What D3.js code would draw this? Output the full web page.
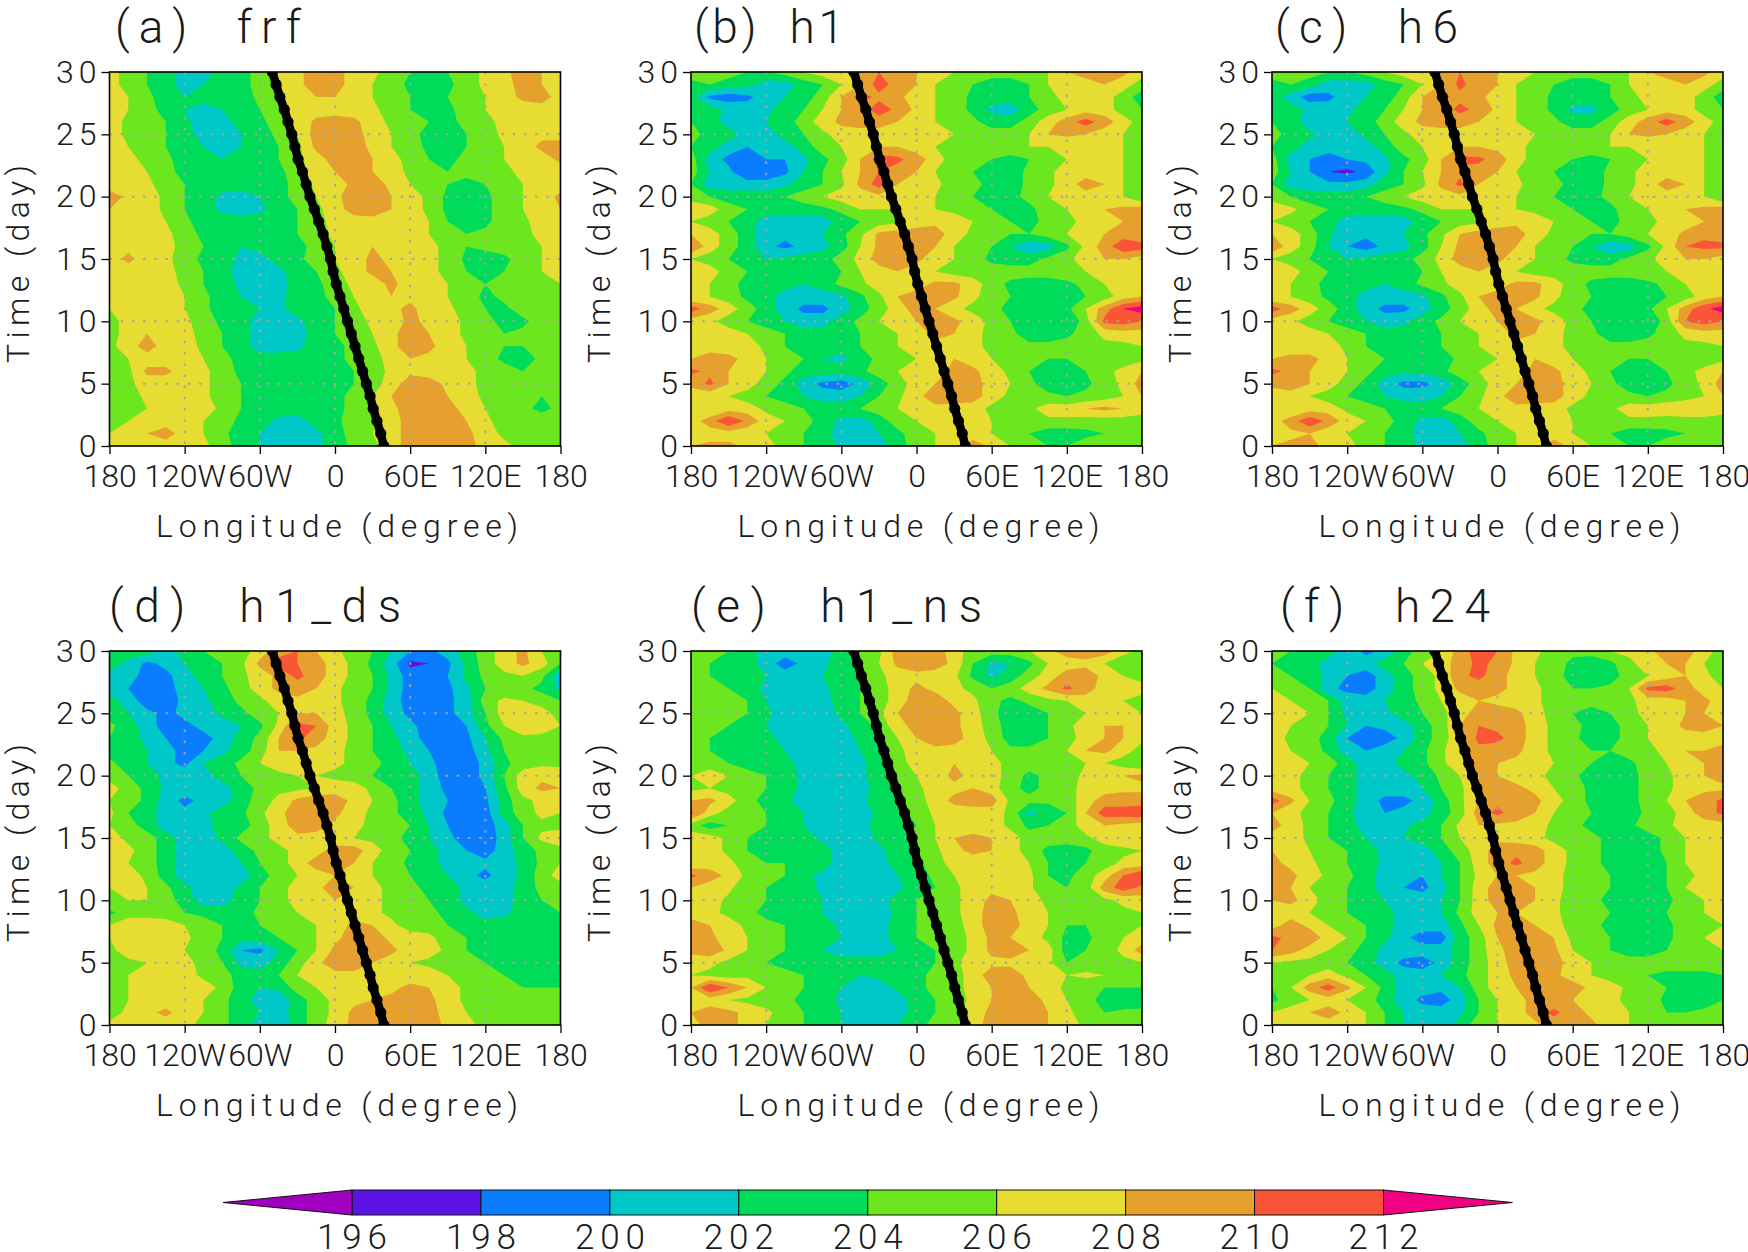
<!DOCTYPE html>
<html>
<head>
<meta charset="utf-8">
<script src="https://d3js.org/d3.v7.min.js"></script>
<style>
  body { margin: 0; background: #fff; }
  text { font-family: Roboto, "Liberation Sans", sans-serif; font-weight: 300; fill: #1a1a1a; white-space: pre; }
  .axis path { display: none; }
  .axis line { stroke: #000; stroke-width: 1.3px; }
  .axis text { font-family: Roboto, sans-serif; font-size: 32px; font-weight: 300; fill: #1a1a1a; }
  .axis.yaxis text { letter-spacing: 5px; }
  .grid line { stroke: #a4a4a4; stroke-width: 2px; stroke-dasharray: 2.5 8.7; }
  .frame { fill: none; stroke: #000; stroke-width: 1.6px; }
</style>
</head>
<body>
<script>
// grid axes: rows run from day 30 (top) to day 0, columns from 180W to 180E every 15 degrees
var lons = d3.range(-180, 181, 15);
var lonTicks = [-180, -120, -60, 0, 60, 120, 180];
var lonTickLabels = ["180", "120W", "60W", "0", "60E", "120E", "180"];
var dayTicks = [0, 5, 10, 15, 20, 25, 30];
var levels = [196, 198, 200, 202, 204, 206, 208, 210, 212];
var levelColors = ["#5c14e6", "#0a7dff", "#00c8c8", "#00dc5a", "#6ce61e", "#e6dc32", "#e6a02d", "#fa5537", "#f00082"];
var belowColor = "#a000c0";
var panelTitles = ["(a)  frf", "(b)  h1", "(c)  h6", "(d)  h1_ds", "(e)  h1_ns", "(f)  h24"];

// black line, longitude at day 0, 1, ... 30
var trackLon = [39,36.5,33.5,30.5,28,25,22,19,16,13,10,7,4,1,-1.5,-3.5,-6.5,-9.5,-13,-16.5,-20,-23,-26,-29.5,-32,-34.5,-37.5,-40.5,-44,-47,-50];

var gridFrf = [
[207,205,204,203,201, 201,203,203,205,207, 207.5,209,209,207,206.5, 205,204,203,204,205, 206.5,207.5,209,208,207],
[207,205,204,203,201, 202,203,203,205,206, 207.5,209,209,207,206, 205,203.5,203,203.5,205, 206.5,207.5,208.5,208,207],
[207,206,204.5,203,202, 203,203,203,204.5,206, 207,208,208,207,206, 205,204,203,204,205, 206,207,208.5,209,207],
[207,206,205,203,202, 201,202,203,204,205, 207,207,207,207,206.5, 205,204,203,203.5,205, 206,207,207,207,207],
[207,205.5,205,204,202.5, 201,201,203,203.5,205, 206.5,208.5,209,208.5,207, 205.5,204.5,204,203.5,204.5, 205.5,206.5,207,208,207],
[207,205.5,204.5,204,203, 201,201,202,203,204.5, 206,209,209,209,207, 206,205,203,203,204, 205,206.5,207,207.5,207],
[207,206,205,204,203, 202,201.5,202,203,204, 205.5,208.5,209,209,207.5, 206,205,203.5,203.5,204, 205,206,207,208.5,209],
[207,206.5,205.5,204.5,203, 203,202,203,203,204, 205.5,207,209,209,208, 206.5,205.5,204,203.5,204.5, 205,206,206.5,207,208.5],
[207,207,206,205,203, 203,203,203,203,203.5, 205,207,208,209,208, 207,205.5,204.5,204,204.5, 205,205.5,206.5,207,207],
[207,207,206.5,205,204, 203,203,203,203,203.5, 204.5,206.5,207,208.5,209, 207.5,206,205,204,203.5, 204,205,206,207,207],
[209,207.5,207,205.5,204, 203,201.5,201,202,203.5, 204.5,206,207.5,209,209.5, 208,207,205.5,203.5,203, 203.5,205,206,207,208.5],
[208,207.5,207,205.5,204, 203,201.5,201,201.5,203, 204,205.5,207,209,209.5, 208,207,205.5,203.5,203, 203.5,205,206,207,208],
[207,207,207,206,204.5, 203,203,203,203,203,204,205,207,207,207, 207,207,206,204,203, 203.5,205,205.5,207,207],
[207,207,207,206.5,205, 203.5,203,203,203,203, 204,205,206.5,207,207, 207,207,206,204.5,204, 204.5,205,205.5,206.5,207],
[207,207.5,207,206.5,205.5, 204,203,202,203,203, 203.5,204.5,206,207,208, 207,207,206.5,205.5,204, 204.5,205,205.5,206,207],
[207,208.5,207,206.5,205, 203.5,203,201.5,201,203, 203.5,205,206,207,208.5, 207.5,207,206.5,205.5,203.5, 203,203.5,205,206,207],
[207,207,207,206.5,205.5, 204,203,201,201,201.5, 203,204,205.5,207,208.5, 208,207,206.5,205.5,204, 203.5,204,205,206,206.5],
[207,207,207,207,205.5, 204,203,201.5,201,201, 203,203.5,205,206.5,207, 208.5,207,207,206,204.5, 204,204.5,205,205.5,206],
[207,207,207,207,206, 204.5,203,202,201,201.5, 203,203.5,204.5,206,207, 208,207.5,207,206,205, 203.5,204.5,205,205.5,205.5],
[206,207,207,207,206, 204.5,203,202.5,202,201.5, 203,203,204,205.5,207, 207.5,208.5,207,206.5,205, 204,203.5,205,205,205],
[205,207,207,207,206.5, 205,203.5,203,201,201, 201.5,203,204,205,206.5, 207,208.5,207.5,207,205.5, 204.5,203.5,203.5,205,205],
[205,207,208,207,206.5, 205.5,204,203,201,201, 201,203,204,205,206, 207.5,209,208,207,205.5, 205,204,204.5,205,205],
[205.5,207,209,207,207, 205.5,204,203,201,201, 201.5,203,203.5,204.5,205.5, 207.5,209,208.5,207,206, 205,204,204,205,205],
[204.5,206,207,207,207, 206,204.5,203.5,203,203, 203,203,203.5,204.5,205, 207,208,207.5,207,206, 205,203.5,203,204.5,205],
[205,205.5,208.5,208.5,207, 206.5,205,203.5,203,202,203,203,203.5,204,205, 206.5,207.5,207,207,206.5, 205.5,205,204,204.5,205],
[205,205.5,207,207,207, 206.5,205,204,203,203, 203,203,203.5,204,205, 207,209,209,207.5,206.5, 205.5,205,204.5,205,205],
[205,205,206.5,207,207, 206.5,205,204,203,203, 203,203,203.5,204.5,206, 208,209,209,208,207, 205.5,205,205,204,204.5],
[205,205,206,207,207, 207,205.5,204,203,203, 203,203,203.5,204.5,205.5, 207.5,209,209,208.5,207.5, 206,205,204.5,203.5,204.5],
[205.5,206,207,207,207, 206,205,203.5,203,201.5, 201,203,203.5,205,205.5, 207,209,209,209,208, 206.5,205,205,205,205],
[206,207,208,209,207, 206,204.5,203,202,201, 201,201.5,203,205,206, 207.5,208.5,209,209,208.5, 207,205.5,205,205,205],
[207,207,207,207,207, 206.5,205,203,202,201, 201,201.5,203,204.5,205.5, 207,209,209,209,208.5, 207.5,206.5,205.5,205,206]
];

var gridH1 = [
[206,205,205,204,204, 205,206,207,207,209, 210,209,208,207,206, 205,205,205,205,206, 208,209,209,208.5,207],
[203,204,203,203,201, 201,203,204,206,208, 211,209,208,206,205, 204,203,203,204,206, 207,207,208,207,205],
[203,199.5,199,199.5,201, 202,203,205,208,211, 209.5,208.5,207,206,205, 203.5,203,203,204,205, 207,208,207,205,203],
[203,203,201.5,201,201.5, 203,204,206,208,209, 211,209.5,207.5,206,205, 203.5,201.5,201,203,205, 206,207,207,205,204],
[204,203,201,201,202, 203,205,207,208.5,209, 209,208,207,206,205, 204.5,203,203,205,207, 209,211,209,207,205],
[205,203,203,201,201, 203,204,205.5,207,207, 207,207,207,207,206, 205,205,205,206,208, 208.5,208,207,206,205],
[204,203,201,200,200, 201,203,205,206,207, 208,208,207,206,205, 205,205,205,206,206, 206,206.5,207,206,205],
[205,201,199.5,199,200, 200,201.5,203.5,205,208, 211,210.5,209,207,205, 204.5,204,203.5,204,205, 206,207,207,206,205],
[205,202,200.5,198,198, 199.5,202,204,206,208, 210,209,208,206,205, 204,203,203,204.5,205.5, 207,207,206,206,204],
[204,201,201,201,201, 201.5,203,204,205.5,208.5, 211,208,207,206.5,205, 204.5,203.5,203,204.5,205.5, 207,209,208,206,205],
[205,204,203,203,203, 204,205,206,207,207, 207.5,207,207,206,205, 204,203,203.5,204.5,206, 207,207,207,206,204],
[207.5,207,205,204,203, 203,203,203.5,204.5,206, 206,206,206.5,206,205.5, 205,204,203.5,203.5,205, 206,207,208,208.5,209],
[206,205,204,203,201, 201,201,201,203,204, 205,205.5,207,207.5,207, 206,205,204,203.5,204.5, 205.5,206.5,207,208,208],
[208,207,205,203,200.5, 200.5,200.5,202,203.5,205.5, 208.5,209,209,209,207, 205.5,204.5,204,204,205, 206,207,208,209,208],
[210,207,205,203,200.5, 199.5,200.5,201.5,203,206, 208.5,209,209,208,206, 205,204,202,200.5,201, 203.5,206.5,209,211.5,211],
[206,205,204,203,202, 202.5,203,203,205,206.5, 209,209,208.5,207,206, 205,203.5,203,203,204.5, 205.5,207,208,208,207],
[207,207,205,204,203, 203,203,203.5,204,206, 207,208,207,206,205, 205,205,205,205,205, 205.5,206,206.5,207,208],
[207,206,205,203,203, 203,202,203,204.5,205.5, 207,207.5,207,208.5,208.5, 207,205,203.5,203,203, 203.5,204.5,206,206,206.5],
[206,206,205,203.5,203, 201,201,201,201.5,203.5, 205.5,208,209,209.5,208.5, 206.5,205,204,203,203, 203,204,205,207,208],
[211,209,207,205,203, 201,199.5,199.5,201,203, 205,207,209,208,206.5, 205.5,204.5,203.5,203,203, 203.5,206,209,212,213],
[207,206.5,205,204,203.5, 202,201,201,203,204.5, 206,207,208,209,208.5, 207,205.5,204,203,203, 202,205,210.5,211,210],
[207,207,207,206,204.5, 204,203,203,203,204, 205,206,207,208.5,208, 206.5,205.5,204.5,203,203, 203.5,205,206.5,207,207],
[207,207,207,207,205.5, 204,203,203,203,204, 205.5,206,207,207.5,207.5, 206.5,205.5,205,204.5,204.5, 205,205.5,205.5,205.5,206],
[208,209,208.5,207.5,206, 205,204,202,201.5,203, 204.5,205.5,206,207,208, 207,206,205,204,204, 204,205,205,205,205.5],
[210.5,209.5,208,207,206, 204.5,203,203,203,203.5, 205,206,207,206.5,209, 208.5,207,205.5,204,203, 203,204,205.5,206.5,208],
[208.5,210.5,208,207,205, 203.5,201,199.5,199,200.5, 203,205,207,208,209.5, 208.5,207.5,206,204.5,203, 203,203.5,205,206.5,209],
[207,206.5,206,205,204, 203,202,201,201,202, 204,205.5,207.5,209,209.5, 209,207,205.5,205,204.5, 204,204.5,205,206,208],
[207,206,207,207,205.5, 205,204,203.5,203,204, 205,206,207,207.5,207, 207,205.5,205,205.5,207, 207,208,208.5,208,207],
[207,209,212,209.5,207, 206,205,203,201.5,201, 203,205,206,207,207, 207.5,206,205,205,205.5, 205.5,205,205,205,205],
[207,207,207,206.5,206, 205.5,204,203,201,201, 202,203.5,205,206,206.5, 207,206,205,204,203, 203,203.5,204,204.5,205],
[208,208.5,208.5,207.5,206.5, 205.5,204,203,201.5,201, 201,203,205,206,207, 209,207.5,206,205,204, 204,205,204.5,204.5,205]
];

var gridH6 = [
[205.5,205,205,204,204, 205,206,207,207,209, 210,209,208,207,206, 205,205,205,205,206, 208,209,209,208.5,207],
[203,204,203,201,201, 201,203,204,206,208, 210.5,209,208,206,205, 204,203,203,204,206, 207,207,208,207,205],
[203,201,199,199.5,201, 202,203,205,208,210.5, 209.5,208.5,207,206,205, 203.5,203,203,204,205, 207,208,207,205,203],
[203,203,201.5,201,201.5, 203,204,206,208,209, 210.5,209.5,207.5,206,205, 203.5,201.5,201.5,203,205, 206,207,207,205,204],
[204,203,201,201,202, 203,205,207,208.5,209, 209,208,207,206,205, 204.5,203,203,205,207, 209,211,209,207,205],
[205,203,202.5,201,201, 202.5,204,205.5,207,207, 207,207,207,207,206, 205,205,205,206,208, 208.5,208,207,206,205],
[204,203,201,200.5,200.5, 201,203,205,206,207, 208,208,207.5,206.5,205.5, 205,205,205,206,206, 206,206.5,207,206,205],
[205,201,200,199.5,200, 200.5,201.5,203.5,205,208, 210.5,210.5,209,207,205, 204.5,204,203.5,204,205, 206,207,207,206,205],
[205,202,200,198,197.5, 198.5,201.5,204,206,208, 209.5,209,208,206,205, 204,203,203,204.5,205.5, 207,207,206,206,204],
[204,201,201,200.5,200.5, 201,203,204,205.5,208.5, 210.5,208,207,206.5,205, 204.5,203.5,203,204.5,205.5, 207,209,208,206,205],
[205,204,203,203,203, 204,205,206,207,207, 207.5,207,207,206,205, 204,203,203.5,204.5,206, 207,207,207,206,204],
[207.5,206.5,205,204,203, 203,203,203.5,204.5,206, 206,206,206.5,206,205.5, 205,204,203.5,203.5,205, 206,207,208,208.5,209],
[206,205,204,203,201, 201,201,201,203,204, 205,205.5,207,207.5,207, 206,205,204,203.5,204.5, 205.5,206.5,207,208,208],
[208,207,205,202.5,200.5, 200.5,200.5,202,203.5,205.5, 208,209,209,209,207, 205.5,204.5,204,204,205, 206,207,208.5,209.5,209],
[209.5,207,205,202,200, 199,200.5,201.5,203,206, 208.5,209,209,208,206, 205,204,202,200.5,201, 203.5,206.5,210,210.5,210.5],
[206,205,204,203,202, 202.5,203,203,205,206.5, 209,209,208.5,207,206, 205,203.5,203,203,204.5, 205.5,207,208,208,207],
[207,207,205,204,203, 203,203,203.5,204,206, 207,208,207,206,205, 205,205,205,205,205, 205.5,206,206.5,207,208],
[207,206,205,203,203, 203,202,203,204.5,205.5, 207,207.5,207,208.5,208.5, 207,205,203.5,203,203, 203.5,204.5,206,206,206.5],
[206,206,205,203.5,203, 201,201,201,201.5,203.5, 205.5,208,209,209.5,208.5, 206.5,205,204,203,203, 203,204,205,207,208],
[211,209,207,205,203, 201,199.5,199.5,201,203, 205,207,209,208,206.5, 205.5,204.5,203.5,203,203, 203.5,206,209,211.5,213],
[207,206.5,205,204,203.5, 202,201,201.5,203,204.5, 206,207,208,209,208.5, 207,205.5,204,203,203, 202,205,210,211,210],
[207,207,207,206,204.5, 204,203,203,203,204, 205,206,207,208.5,208, 206.5,205.5,204.5,203,203, 203.5,205,206.5,207,207],
[207,207,207,207,205.5, 204,203,203,203,204, 205.5,206,207,207.5,207.5, 206.5,205.5,205,204.5,204.5, 205,205.5,205.5,205.5,206],
[208,208.5,208.5,207.5,206, 205,204,202,202,203, 204.5,205.5,206,207,208, 207,206,205,204,204, 204,205,205,205,205.5],
[210.5,209.5,208,207,206, 204.5,203,202.5,202.5,203.5, 205,206,207,206.5,209, 208.5,207,205.5,204,203, 203,204,205.5,206.5,208],
[208.5,210,208,207,205, 203.5,201,199.5,199.5,200.5, 203,205,207,208,209.5, 208.5,207.5,206,204.5,203, 203,203.5,205,206.5,209],
[207,206.5,206,205,204, 203,202,201,201,202, 204,205.5,207.5,209,209.5, 209,207,205.5,205,204.5, 204,204.5,205,206,208],
[207,206,207,207,205.5, 205,204,203.5,203,204, 205,206,207,207.5,207, 207,205.5,205,205.5,207, 207,207.5,208,208,207],
[207,209,211.5,209.5,207, 206,205,203,201.5,201, 203,205,206,207,207, 207.5,206,205,205,205.5, 205.5,205,205,205,205],
[207,207.5,208,206.5,206, 205.5,204,203,201,201, 202,203.5,205,206,206.5, 207,206,205,204,203, 203,203.5,204,204.5,205],
[208,208.5,208.5,207.5,206.5, 205.5,204,203,201.5,201, 201,203,205,206,207, 209,207.5,206,205,204, 204,205,204.5,204.5,205]
];

var gridH1Ds = [
[203,203,203,201,203, 204,204.5,205,207,209, 210,208,206.5,205,204, 202,200,199.5,201,203, 205,207,208.5,206,204],
[203,201.5,199.5,200.5,202, 203,204,205.5,208.5,211, 210,209,207,205.5,203.5, 201,197.5,198,199.5,202.5, 205,207,208.5,207,204],
[201.5,201,199,199.5,201, 203,204,205.5,207,208.5, 210.5,209,207,205.5,204, 201.5,199,199,200,202.5, 204.5,205.5,206,204.5,200.5],
[201,200,198.5,199.5,200.5, 202,203.5,205,207,208.5, 209,208,206.5,205,204, 201.5,199,199,199.5,201.5, 204,204.5,204.5,203.5,201.5],
[203,201,199,199,200.5, 201.5,203,204.5,205.5,207, 207.5,207,206.5,205,203.5, 201,199,199,199.5,201, 205,206.5,206,205,204],
[203,202,200.5,199.5,200.5, 201,202.5,203.5,205,206, 208,208,207,205,203.5, 201,199.5,199,199.5,201, 204,207,207.5,207,205],
[204.5,203,201,199,199.5, 200.5,201,202,203.5,206.5, 210.5,210,207,205.5,204, 202,200.5,199,199,200, 203.5,206,207.5,207,206],
[204,203,201.5,200,199, 199.5,200.5,203,204.5,208, 210.5,209,207,205.5,204, 202.5,201,199,199,199.5, 202,204.5,205.5,205.5,205],
[203,203,202,200.5,199.5, 200,201.5,203,205,208, 208,207.5,206.5,205.5,204, 203,201.5,200,199,199, 201.5,204,204.5,204.5,204.5],
[204.5,203,202,200.5,199.5, 202,203,204.5,206,207, 207.5,207,206.5,205.5,204.5, 203.5,202,200.5,199,199, 200.5,203.5,205,205.5,205.5],
[205,204,203,201.5,201, 201,203,204,205,205.5, 206,206,205.5,205,204, 203.5,203,201,199,199, 200.5,204,207,207.5,207],
[207,205,203.5,201.5,201, 201,201,203,204.5,205.5, 205.5,206,207,207,205.5, 204,203,201,199.5,199, 200,203.5,207,208.5,208],
[206,205,203.5,201,199.5, 200.5,201,203,205,206.5, 208.5,209.5,209,207.5,206, 204.5,203,201,200,199, 199.5,203,205.5,206.5,206],
[206.5,204,203,201,200.5, 201.5,203,203.5,205.5,207.5, 209,209,208.5,207,205.5, 204.5,203,201.5,199.5,199, 199,203,205,206.5,206],
[206,205,203,201,201, 201,203,203,205,207, 209,209,207.5,206.5,205.5, 205,204,202,200,198.5, 199,201,204,205.5,205.5],
[207,205.5,205,203,201, 201,202.5,204.5,205.5,206.5, 207.5,207,206.5,206,205.5, 204.5,203.5,202,200.5,199, 198.5,201,204,206.5,207],
[207,206.5,205,203,201, 201,201,203,204.5,205.5, 206.5,207,209,209,207, 205,204,203,201,200, 199,201,203,204.5,205.5],
[207,206,205,203,201, 201,201,202,204,205, 207,209,209.5,208,206, 205,203.5,203,201,201, 200.5,201,202.5,204.5,206],
[208,207,205.5,203,201, 200.5,200.5,201,203,205, 206,207,208,207.5,206, 205.5,204,203,202,200.5, 199.5,201,202.5,205,207],
[206,206.5,206,204.5,202.5, 201,201,202.5,204,205.5, 206.5,207.5,209,208,206.5, 205.5,204.5,203.5,203,201.5, 201,201,203,204.5,205],
[205.5,206,206,205,203, 201,201,203,204,205.5, 206.5,207,208,207.5,206.5, 205.5,204.5,204,203,201.5, 201,201,203,204,204],
[203.5,205,205,205,204, 203.5,203,203,204.5,205.5, 206,206.5,207,207,206.5, 205.5,205,204.5,203.5,202.5, 201,201.5,203,203.5,204],
[206,207.5,207.5,207,206, 205,204,203.5,204,204.5, 205,206,207,208.5,208, 206.5,205,205,204,203.5, 203,203,203.5,203.5,204],
[206,207.5,208,207.5,206.5, 205,204,203,203,204, 205,206,207.5,209,209, 207.5,207,206.5,205,204, 203,203,203,203,203.5],
[205.5,207,207.5,206.5,206, 205,203.5,200,199.5,202, 204,206,208.5,209.5,209, 208.5,207,207,205.5,204, 203.5,203,203,203,203],
[204.5,205.5,206,206.5,206.5, 205.5,204,201.5,201,203, 205,207.5,209,209,208, 207,206,205.5,205,204.5, 204,203,203,203,203.5],
[205,206,207,207.5,207, 205.5,205,203,203,204, 206,207,207.5,207.5,207, 207,207,207,206,205, 204.5,204,203.5,203.5,203.5],
[204,206,207,207.5,207.5, 207,205.5,203,202,202.5, 205,206,206.5,207,207.5, 207.5,208.5,208,207,205.5, 205,204,204,204,204],
[205,206,206.5,207,207, 206,204.5,203,201,200.5, 203,205,206.5,207.5,208, 208.5,208.5,208.5,207,205.5, 205,204.5,204.5,204,204],
[205,206.5,207.5,208.5,207, 206,204.5,203,202,201, 203,205,206.5,208.5,209, 209,209,209,207,206, 205.5,205,204.5,204.5,204],
[206.5,207,207,207,206.5, 205.5,204.5,203,201,200.5, 203,205,207,208.5,209, 209,209,209,207.5,206.5, 205.5,205,205,205,204.5]
];

var gridH1Ns = [
[206,205,204,203,201, 201,201,201,203,205, 205.5,209,209,209,207, 205,205,205,206,207.5, 209,209,209,207,205],
[204,204,203.5,203,201, 199,200.5,201.5,203,204.5, 206,208.5,209,209,207.5, 204,201.5,202,203.5,206, 207,207.5,206,204,204],
[205,204,203,203,202, 201,201,202,203,204, 205.5,207,207.5,207,206.5, 203.5,201.5,203,205,207, 209,209,207.5,206,205],
[204,204.5,204,203,201.5, 201,201,201.5,203,204, 205,207,208.5,207.5,206.5, 205.5,204,205,207,208.5, 210.5,209,207,206,207],
[206,205,205,204,202, 201,201,201,203,204, 205,207,209,209,207.5, 206.5,204.5,203.5,204.5,205.5, 206,207,207,206,205],
[205,205,204.5,204,202.5, 201,201,201,202.5,204, 205.5,208,209,209,208.5, 207,204.5,203,203,204, 205,206,206.5,207,206],
[204,204.5,204,203,202, 201,201,201,201.5,203, 204.5,207.5,208.5,209,208.5, 207,205,203,203,204, 205.5,207,208,208,206],
[205,204,203,203,202.5, 201.5,201,201,201,202.5, 204,206,208,209,209, 207,205.5,203,203,204, 205,207,208,208,206.5],
[204,204,203,203,203, 202,200.5,201,201,202, 203.5,205.5,207,207.5,207, 206.5,206,204.5,204.5,205, 206,208,208.5,207,205],
[204.5,205,204,203.5,203, 202.5,201.5,201,201,201.5, 203,205,207,207,208, 207,206.5,205.5,205,205, 205.5,206,206,205,204],
[206,207,206,204.5,204, 203,201.5,201,201,201.5, 203,204,206,207,208.5, 207.5,207,205,203.5,204.5, 205,206.5,207.5,208,208.5],
[205.5,206,205,204,204, 203,201.5,201,201,201.5, 202.5,204,205.5,207,207.5, 208,207,204.5,203.5,204.5, 205.5,206.5,207,207.5,207.5],
[208,208.5,207,204.5,203.5, 202.5,201,201,201,201.5, 203,204,205,207,208.5, 209,209,205.5,204.5,204.5, 205,207,209,209,209],
[210.5,207,205,204.5,204, 203,202,201,201,201, 202.5,203.5,204.5,206.5,207, 207,207,205.5,201.5,202.5, 204,208,211,211,211.5],
[205,203,204,204,204, 203,202,201,201,201, 203,203.5,204,206,207, 207,207,205.5,203.5,204, 205,207,208,207.5,207],
[207,207,205.5,204,203.5, 203,203,201.5,201,201, 202.5,203.5,204.5,206,208, 208.5,208,207,205,205, 205,205.5,207,207.5,208],
[207,207,205.5,204,203.5, 203.5,203,203,201,201, 201.5,203,204,205.5,207.5, 208.5,208,207,205,203.5, 203,203.5,205,205.5,206],
[206,207,206.5,205,204, 204,203,203,201,201, 201,203,203.5,205,207, 207,207.5,207,206,204, 203.5,204,205,206.5,206.5],
[210.5,209,207.5,205.5,204.5, 204,202.5,201.5,201,201, 201,202,203,204.5,206, 207,207,207,206.5,204, 203.5,205,207,210,212],
[208,207,206.5,204.5,204, 203.5,203,201.5,201,201, 201,201.5,203,204,205.5, 207,207.5,207,206.5,204, 204,205,209,211,209.5],
[207,207,205.5,205,204, 203,203,202,201,201, 201,203,204,204.5,205.5, 207,208.5,208,207,205.5, 204,204,205.5,206.5,207],
[207,206.5,205.5,204.5,203.5, 203,203,202,201,201, 201,202.5,204,204.5,205.5, 207,209,208.5,207,206, 204.5,204.5,205,205.5,206],
[209,208,207,205.5,204.5, 204,203,203,201.5,201, 201,203,204,204.5,205, 207,209,209,207,206, 204,204,205,205,206],
[210,208.5,207,206,205, 204,203.5,203,202,201, 201,203,204,204.5,205, 206.5,208.5,208,207,205.5, 203.5,203.5,205,206,207],
[208.5,209.5,207.5,206,205, 204,203,202,201,201, 201,202,203,204,205, 206.5,208.5,209,208,207, 203,204,205,206.5,209],
[207,206.5,205.5,204.5,204, 203.5,203,203,203,203, 203,203,203.5,204,205.5, 207,207.5,207.5,207,206.5, 204,204.5,205,205.5,206],
[206,205.5,205,205.5,205, 204.5,204,203,202,202, 202.5,203,203.5,204.5,205, 207,209,209,207.5,207, 206,206.5,206,205.5,205],
[208,212,210,208,206, 205,204,203,202,201, 201,202.5,203.5,204.5,205, 207,208,209,208,207, 205.5,204.5,204,204,204],
[206,207,206,205.5,205, 204.5,203.5,203,201.5,201, 201,201,203,204,205, 206.5,208,209,209,207.5, 206,204.5,203.5,202.5,203],
[208,209,208.5,207.5,206.5, 205,204,203,202,201, 201,201,203,204,205, 207,208.5,209,209,208, 206.5,205,204,204.5,204.5],
[207,209,208.5,207.5,206, 205,204,203,202,201, 201,202,203.5,204.5,205.5, 207,209,209,209,208, 207,205.5,205,205,204.5]
];

var gridH24 = [
[205,204,204,203,201, 199.5,200.5,203,205,206, 209,211,210,207.5,206.5, 205,204.5,205,206,206.5, 207.5,209,209,207,205],
[204,203,203,201,200.5, 201,203,204,206,207, 209,210.5,209.5,207.5,206, 205,203.5,202.5,203.5,205.5, 207,208,208,206,204],
[205,204,203,201.5,200, 199,201,203,205,206.5, 209.5,210.5,209,207,206, 205,203,202,203,205, 206,207,208,206.5,205],
[206,205,204,200.5,199.5, 199,201,203,205,206.5, 208.5,209,208.5,207.5,206.5, 205,204,204,204.5,206, 210.5,211,209,207,206],
[207,206,205,204,201, 201,202,203,204.5,206, 207,208,207.5,207,206.5, 205,205,204.5,205,205.5, 207,207,208,208.5,207],
[208,207,206,204,201.5, 201,201.5,203,204,205.5, 207,209,209,208.5,207, 205,204,203.5,204,205.5, 206.5,207,208,208,207],
[206,206,205.5,204,202, 200,200.5,201,203,205, 208,210,209.5,209,207, 205.5,204.5,203.5,203.5,204.5, 206,207,208.5,208.5,208],
[207,205.5,205,203,200, 198.5,199,200.5,203,205, 207.5,210.5,210.5,209,207, 205.5,204.5,203,203.5,204.5, 206,206.5,207,207.5,207.5],
[207,206,205,203.5,201, 200,201,202,203.5,205.5, 208,209.5,209,208.5,207, 205.5,204.5,204,204,205, 205.5,206.5,208,208,208.5],
[208,207,206,205,203, 201,201.5,202.5,203.5,205.5, 207.5,208.5,208,207.5,207, 206,205,204,203,203.5, 205,206,207,208,208],
[207,206.5,205.5,204,203, 201,201,201.5,202.5,204.5, 206,208,208,207,206.5, 205.5,204.5,203,203,203.5, 204.5,205.5,207,208,209],
[207,206.5,205.5,204,203, 201,201,201,202,204, 205.5,208,208.5,208.5,207.5, 206,205,203.5,203,203.5, 204.5,205.5,207,207.5,207.5],
[211,208.5,206,204.5,203, 201,199.5,199.5,200.5,203, 205.5,208,209.5,209.5,208.5, 207,205,203.5,203,203.5, 204.5,206,208,209,210.5],
[208,206.5,205.5,204,202.5, 201,200,200.5,201,203, 205,209,210.5,209,208, 206,205,204,202.5,203, 204.5,205,207,209,210.5],
[209,207,205.5,204,203, 201,201,201.5,203,204, 206.5,208,207.5,207.5,207, 205.5,204.5,203.5,203,203.5, 205,205.5,207,207,207],
[207,207,205.5,204,203, 202,201.5,202,203,204, 206,207,207.5,207,206.5, 205.5,205,204.5,203.5,203, 203,204.5,206,207,207],
[208,207,206,205,204, 203,201.5,201,201,203, 205,207,209,209.5,209, 207,205.5,204.5,203.5,203, 203,204.5,206,207,207],
[208.5,207.5,206.5,205,204, 203,201.5,201,201,202, 204,207,209,210.5,209, 207,205.5,204.5,203.5,203, 203,204,206,207,207],
[209.5,208.5,207,205.5,204.5, 203,201,200.5,200,202, 204,206.5,208,208,207.5, 207,205,204,204,203, 203,204,205.5,206.5,207],
[209,208,206,205,204, 203,201,200,199.5,201, 204,207,209,209,208, 207,205,204.5,204,203, 203,204,206,206.5,208],
[208,208.5,207,205,204, 203,202,201,201,202, 204,207,209,208.5,208, 206.5,205,204.5,203.5,202.5, 202.5,203.5,205,206,207],
[207,207,206,205,204, 203,202.5,201.5,201,202, 204.5,207,208,208,207.5, 206.5,205,204.5,204,203, 203,204,205.5,206,206.5],
[207,209,207.5,206,205, 204,203,201,201,201, 203.5,206,208.5,209,208, 207,205,204.5,203.5,203, 203,203.5,205,205.5,206],
[210.5,209.5,209.5,207,206, 204,202.5,200.5,199,199, 203,205,208,209,209, 208,205.5,204.5,204,203.5, 203.5,203.5,205,206,206],
[210,209,207,206,205, 203,201.5,201,201,201, 203,205,207.5,209,209, 208.5,206,205,204,203.5, 203.5,204,205,205.5,206],
[206,205.5,205.5,205,204, 203,201,199.5,199,200.5, 203,205,207,209,209.5, 209,207,206,205,204.5, 204.5,205,205,205,205],
[204,205.5,206,207,205.5, 204,203,201,201,202, 203.5,205,207,208.5,208.5, 208.5,207,206,205,204.5, 204,203.5,203.5,203.5,204],
[204,206,209,211,208.5, 206,203.5,201,201,200.5, 202,205,207,208,209.5, 209.5,209,207.5,207,205.5, 205,204,204,203.5,203.5],
[203.5,205,206,207,206, 205,203,201,199.5,199, 201,204,206,207.5,208.5, 209,208,207,206.5,205.5, 205,203.5,203,203,204],
[206,207,208,209,207.5, 206,204,202,201,201, 201.5,204,206,207,209, 210.5,209,207.5,207,206, 205,204,204,204.5,205],
[207,207.5,207.5,207,206.5, 206,204,202,201,200.5, 203,205,206,207,207.5, 209,209,208.5,207,206, 205.5,205,205,205,204.5]
];

var grids = [gridFrf, gridH1, gridH6, gridH1Ds, gridH1Ns, gridH24];

var panelW = 451, panelH = 374;
var colX = [109.5, 691, 1272];
var rowY = [72, 651];
var titleWidth = [186, 150, 183, 292, 291, 210];
var titleX = [115, 694, 1275, 109, 691, 1280];
var titleBase = [43, 622];

var svg = d3.select("body").append("svg")
  .attr("width", 1748)
  .attr("height", 1252)
  .style("display", "block");

var contours = d3.contours().size([lons.length, 31]).thresholds(levels);

function drawPanel(k) {
  var px = colX[k % 3], py = rowY[Math.floor(k / 3)];
  var g = svg.append("g").attr("transform", "translate(" + px + "," + py + ")");

  var x = d3.scaleLinear().domain([-180, 180]).range([0, panelW]);
  var y = d3.scaleLinear().domain([0, 30]).range([panelH, 0]);

  // contour grid coordinates -> lon / day. points sit at cell centres
  var proj = d3.geoTransform({
    point: function(gx, gy) {
      this.stream.point(x(-180 + (gx - 0.5) * 15), y(30 - (gy - 0.5)));
    }
  });
  var path = d3.geoPath(proj);

  g.append("clipPath").attr("id", "clip" + k)
    .append("rect").attr("width", panelW).attr("height", panelH);

  var plot = g.append("g").attr("clip-path", "url(#clip" + k + ")");
  plot.append("rect").attr("width", panelW).attr("height", panelH).attr("fill", belowColor);

  // a row of the wrong length just shows up as a skewed field, so flatten padded to the grid width
  var values = [];
  grids[k].forEach(function(r) {
    lons.forEach(function(lon, i) { values.push(i < r.length ? r[i] : r[r.length - 1]); });
  });

  plot.selectAll("path.band")
    .data(contours(values))
    .enter().append("path")
    .attr("class", "band")
    .attr("d", path)
    .attr("fill", function(d, i) { return levelColors[i]; });

  // dotted grid
  var grid = g.append("g").attr("class", "grid");
  grid.selectAll("line.v").data(lonTicks.slice(1, -1)).enter().append("line")
    .attr("x1", x).attr("x2", x).attr("y1", 0).attr("y2", panelH);
  grid.selectAll("line.h").data(dayTicks.slice(1, -1)).enter().append("line")
    .attr("y1", y).attr("y2", y).attr("x1", 0).attr("x2", panelW);

  // black track, on top of the grid dots
  var track = g.append("g").attr("clip-path", "url(#clip" + k + ")");
  var line = d3.line()
    .x(function(d) { return x(d); })
    .y(function(d, i) { return y(i); });
  track.append("path")
    .attr("d", line(trackLon))
    .attr("fill", "none").attr("stroke", "#000").attr("stroke-width", 8.5);
  track.selectAll("circle").data(trackLon).enter().append("circle")
    .attr("cx", function(d) { return x(d); })
    .attr("cy", function(d, i) { return y(i); })
    .attr("r", 5.6).attr("fill", "#000");

  g.append("rect").attr("class", "frame").attr("width", panelW).attr("height", panelH);

  // axes
  g.append("g").attr("class", "axis")
    .attr("transform", "translate(0," + panelH + ")")
    .call(d3.axisBottom(x).tickValues(lonTicks).tickSize(8).tickPadding(10)
      .tickFormat(function(d, i) { return lonTickLabels[i]; }));
  g.append("g").attr("class", "axis yaxis")
    .call(d3.axisLeft(y).tickValues(dayTicks).tickSize(8).tickPadding(0));

  g.append("text")
    .attr("x", panelW / 2 + 2).attr("y", panelH + 91)
    .attr("text-anchor", "middle").attr("font-size", 32)
    .attr("textLength", 362).attr("lengthAdjust", "spacing")
    .text("Longitude (degree)");

  g.append("text")
    .attr("transform", "translate(-81," + (panelH / 2 + 5) + ") rotate(-90)")
    .attr("text-anchor", "middle").attr("font-size", 32)
    .attr("textLength", 198).attr("lengthAdjust", "spacing")
    .text("Time (day)");

  svg.append("text")
    .attr("x", titleX[k]).attr("y", titleBase[Math.floor(k / 3)])
    .attr("font-size", 46)
    .attr("textLength", titleWidth[k]).attr("lengthAdjust", "spacing")
    .text(panelTitles[k]);
}

d3.range(6).forEach(drawPanel);

// colour bar
var barX = d3.scaleLinear().domain([196, 212]).range([352, 1383.5]);
var barTop = 1190, barBot = 1215;
var bar = svg.append("g");

bar.selectAll("rect").data(levels.slice(0, -1)).enter().append("rect")
  .attr("x", barX)
  .attr("y", barTop)
  .attr("width", function(d) { return barX(d + 2) - barX(d); })
  .attr("height", barBot - barTop)
  .attr("fill", function(d, i) { return levelColors[i]; })
  .attr("stroke", "#111").attr("stroke-width", 1);

bar.append("polygon")
  .attr("points", [[barX(196), barTop], [barX(194), (barTop + barBot) / 2], [barX(196), barBot]].join(" "))
  .attr("fill", belowColor).attr("stroke", "#111");
bar.append("polygon")
  .attr("points", [[barX(212), barTop], [barX(214), (barTop + barBot) / 2], [barX(212), barBot]].join(" "))
  .attr("fill", levelColors[8]).attr("stroke", "#111");

bar.selectAll("text").data(levels).enter().append("text")
  .attr("x", barX)
  .attr("y", 1249)
  .attr("text-anchor", "middle")
  .attr("font-size", 35)
  .attr("textLength", 70).attr("lengthAdjust", "spacing")
  .text(function(d) { return d; });
</script>
</body>
</html>
